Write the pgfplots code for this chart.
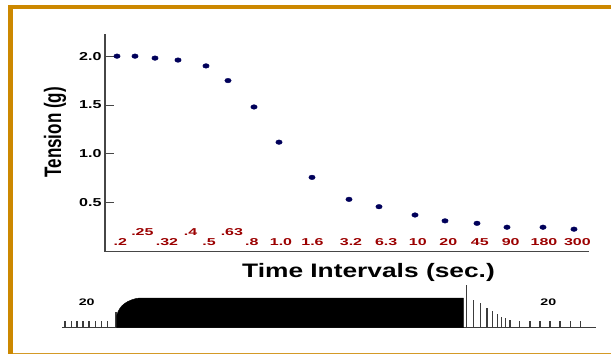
\documentclass[border=0pt]{standalone}
\usepackage{pgfplots}
\pgfplotsset{compat=1.18}
\usepackage{fontspec}
\setmainfont{Liberation Sans}
\definecolor{frameor}{RGB}{204,136,0}
\definecolor{tickred}{RGB}{155,0,0}
\definecolor{dotnavy}{RGB}{0,0,90}
\definecolor{axgray}{RGB}{70,70,70}
\definecolor{stimgray}{RGB}{60,60,60}
\newcommand{\wx}[2]{\scalebox{#1}[1]{#2}}
\newcommand{\rl}[1]{\wx{1.6}{#1}}
\begin{document}
\begin{tikzpicture}[x=1pt,y=1pt]
\useasboundingbox (0,0) rectangle (611,354);
% frame
\fill[frameor] (8,0) rectangle (13.3,349);
\fill[frameor] (8,345.3) rectangle (611,349);
\fill[frameor!85] (13.3,0.4) rectangle (611,1.5);

\begin{axis}[
  at={(105,104.7)}, anchor=south west,
  scale only axis, width=484pt, height=217.5pt,
  xmin=105, xmax=589, ymin=0, ymax=2.225,
  axis lines*=left,
  axis line style={axgray, line width=1.2pt, -},
  clip=false,
  ytick={0.5,1,1.5,2},
  tick align=inside,
  major tick length=9pt,
  ytick style={axgray, line width=1pt},
  xtick style={draw=none},
  /pgf/number format/assume math mode=true,
  yticklabel={\wx{1.4}{\pgfmathprintnumber[fixed,fixed zerofill,precision=1]{\tick}}},
  yticklabel style={font=\fontsize{11.5}{12}\selectfont\bfseries, text=black},
  xtick={120.3,142.4,167,190.5,209,231.9,251.9,281,312.5,351,386.2,417.8,448.3,479.8,510.7,544,577.4},
  xticklabels={\rl{.2}, \raisebox{9.7pt}{\rl{.25}}, \rl{.32}, \raisebox{9.7pt}{\rl{.4}}, \rl{.5}, \raisebox{9.7pt}{\rl{.63}}, \rl{.8}, \rl{1.0}, \rl{1.6}, \rl{3.2}, \rl{6.3}, \rl{10}, \rl{20}, \rl{45}, \rl{90}, \rl{180}, \rl{300}},
  xticklabel style={font=\fontsize{10}{10}\selectfont\bfseries, text=tickred, anchor=base, yshift=6.2pt},
  xlabel={\wx{1.35}{Time Intervals (sec.)}},
  xlabel style={font=\fontsize{19.5}{20}\selectfont\bfseries, at={(rel axis cs:0.5444,-0.12)}, anchor=base},
  ylabel={\scalebox{1}[1.4]{Tension (g)}},
  ylabel style={font=\fontsize{17}{17}\selectfont\bfseries, at={(rel axis cs:-0.0909,0.5485)}, anchor=base},
]
\addplot[only marks, mark=*, mark size=2.3pt, color=dotnavy, mark options={xscale=1.4}] coordinates {
 (117,2.00) (135,2.00) (155,1.98) (178,1.96) (206,1.90) (228,1.75) (254,1.48) (279,1.12) (312,0.76)
 (349,0.535) (379,0.46) (415,0.375) (445,0.315) (477,0.29) (507,0.25) (543,0.25) (574,0.23)};
\end{axis}

\begin{axis}[
  at={(0,0)}, anchor=south west,
  scale only axis, width=611pt, height=354pt,
  xmin=0, xmax=611, ymin=-26.3, ymax=327.7,
  hide axis, clip=false,
]
% baseline
\addplot[stimgray, line width=1pt] coordinates {(62,0) (595.7,0)};
% stimulus tick marks before and after the tetanus
\addplot[ycomb, stimgray, line width=1.1pt] coordinates {
 (65,7) (71.7,7) (77,7) (83,7) (89,7) (95.7,7) (101.7,7) (107.7,7) (116,15.7)
 (466.7,42.7) (473.3,27.7) (480.3,24.4) (487,20) (492.7,16.7) (497.7,13.4) (501.7,11) (505.7,9.4)
 (510,8) (519.3,7) (530,7) (540,7) (550,7) (560,7) (570.7,7) (580.7,7)};
% fused tetanic response
\addplot[fill=black, draw=black] coordinates {
 (116.7,12) (118,16) (120,19.5) (122,22) (125,24.5) (128,26.3) (132,28) (136,29.2) (140,29.7) (463.3,29.7)} \closedcycle;
\node[font=\fontsize{9.5}{10}\selectfont\bfseries] at (axis cs:86.7,25.4) {\wx{1.5}{20}};
\node[font=\fontsize{9.5}{10}\selectfont\bfseries] at (axis cs:548.3,25) {\wx{1.5}{20}};
\end{axis}
\end{tikzpicture}
\end{document}
